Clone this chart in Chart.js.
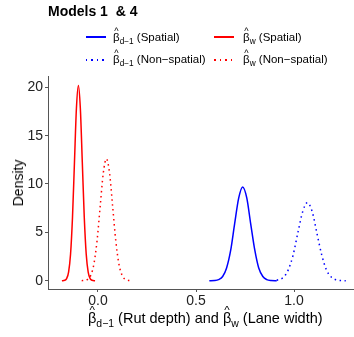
<!DOCTYPE html>
<html lang="en">

<head>
  <meta charset="UTF-8">
  <script src="https://cdn.jsdelivr.net/npm/chart.js"></script>
  <style>
    body { margin: 0; background: #fff; font-family: "Liberation Sans", Arial, sans-serif; }
    .wrap { position: relative; width: 354px; height: 337px; }
    .wrap > div { position: absolute; white-space: nowrap; color: #000; }
    .title { left: 48px; top: 3px; font-size: 14px; line-height: 16px; font-weight: bold; }
    .key { width: 20px; height: 1.5px; }
    .solid-blue { background: #0000ff; }
    .solid-red { background: #ff0000; }
    .dot-blue { background: repeating-linear-gradient(to right, #0000ff 0 1.5px, transparent 1.5px 5.5px); }
    .dot-red { background: repeating-linear-gradient(to right, #ff0000 0 1.5px, transparent 1.5px 5.5px); }
    .lab { font-size: 11.5px; line-height: 13px; color: #000; }
    .b { position: relative; display: inline-block; }
    .b .hat { position: absolute; left: 0; width: 100%; text-align: center; top: -0.66em; font-size: 0.8em; }
    .sub { position: relative; top: 0.35em; font-size: 0.72em; }
    .ytitle { left: 18px; top: 183px; font-size: 14px; transform: translate(-50%, -50%) rotate(-90deg); }
    .xtitle { left: 88px; top: 310px; font-size: 14.5px; line-height: 16px; }
  </style>
</head>

<body>
  <div class="wrap">
    <canvas id="densityChart" width="354" height="337"></canvas>
    <div class="title">Models 1&nbsp; &amp; 4</div>

    <div class="key solid-blue" style="left:86px; top:36px"></div>
    <div class="lab" style="left:113px; top:31px"><span class="b"><span class="hat">^</span>β</span><span class="sub">d−1</span> (Spatial)</div>
    <div class="key solid-red" style="left:214px; top:36px"></div>
    <div class="lab" style="left:243px; top:31px"><span class="b"><span class="hat">^</span>β</span><span class="sub">w</span> (Spatial)</div>
    <div class="key dot-blue" style="left:86px; top:59px"></div>
    <div class="lab" style="left:113px; top:53px"><span class="b"><span class="hat">^</span>β</span><span class="sub">d−1</span> (Non−spatial)</div>
    <div class="key dot-red" style="left:214px; top:59px"></div>
    <div class="lab" style="left:243px; top:53px"><span class="b"><span class="hat">^</span>β</span><span class="sub">w</span> (Non−spatial)</div>

    <div class="ytitle">Density</div>
    <div class="xtitle"><span class="b"><span class="hat">^</span>β</span><span class="sub">d−1</span> (Rut depth) and <span class="b"><span class="hat">^</span>β</span><span class="sub">w</span> (Lane width)</div>
  </div>

  <script>
    // rut depth coefficient, spatial model (blue solid)
    const rutSpatialX = [0.568, 0.595, 0.615, 0.636, 0.656, 0.677, 0.697, 0.718, 0.738, 0.759, 0.779, 0.800, 0.820, 0.841, 0.861, 0.882, 0.912];
    const rutSpatialY = [0.00, 0.02, 0.11, 0.43, 1.31, 3.15, 5.88, 8.56, 9.70, 8.56, 5.88, 3.15, 1.31, 0.43, 0.11, 0.02, 0.00];

    // rut depth coefficient, non-spatial model (blue dotted)
    const rutNonSpatialX = [0.912, 0.946, 0.970, 0.995, 1.019, 1.044, 1.068, 1.093, 1.117, 1.142, 1.166, 1.191, 1.215, 1.240, 1.264];
    const rutNonSpatialY = [0.05, 0.35, 1.09, 2.62, 4.89, 7.12, 8.07, 7.12, 4.89, 2.62, 1.09, 0.35, 0.09, 0.02, 0.00];

    // lane width coefficient, spatial model (red solid)
    const widthSpatialX = [-0.184, -0.17, -0.16, -0.15, -0.14, -0.13, -0.12, -0.11, -0.10, -0.09, -0.08, -0.07, -0.06, -0.05, -0.04, -0.03, -0.015];
    const widthSpatialY = [0.00, 0.04, 0.22, 0.89, 2.73, 6.56, 12.25, 17.83, 20.20, 17.83, 12.25, 6.56, 2.73, 0.89, 0.22, 0.04, 0.00];

    // lane width coefficient, non-spatial model (red dotted)
    const widthNonSpatialX = [-0.083, -0.069, -0.053, -0.037, -0.021, -0.005, 0.011, 0.027, 0.043, 0.059, 0.075, 0.091, 0.107, 0.123, 0.139, 0.155, 0.172];
    const widthNonSpatialY = [0.00, 0.03, 0.14, 0.55, 1.70, 4.09, 7.64, 11.12, 12.60, 11.12, 7.64, 4.09, 1.70, 0.55, 0.14, 0.03, 0.00];

    const xTicks = [0, 0.5, 1];
    const yTicks = [0, 5, 10, 15, 20];

    const toPoints = (xs, ys) => xs.map((x, i) => ({ x: x, y: ys[i] }));

    const lineStyle = (color, dashed) => ({
      borderColor: color,
      borderWidth: 1.5,
      borderDash: dashed ? [1.5, 3.5] : [],
      showLine: true,
      pointRadius: 0,
      cubicInterpolationMode: 'monotone',
      fill: false
    });

    const tickFont = { family: '"Liberation Sans", Arial, sans-serif', size: 14 };

    new Chart(document.getElementById('densityChart'), {
      type: 'scatter',
      data: {
        datasets: [
          { label: 'rut spatial', data: toPoints(rutSpatialX, rutSpatialY), ...lineStyle('#0000ff', false) },
          { label: 'rut non-spatial', data: toPoints(rutNonSpatialX, rutNonSpatialY), ...lineStyle('#0000ff', true) },
          { label: 'width spatial', data: toPoints(widthSpatialX, widthSpatialY), ...lineStyle('#ff0000', false) },
          { label: 'width non-spatial', data: toPoints(widthNonSpatialX, widthNonSpatialY), ...lineStyle('#ff0000', true) }
        ]
      },
      options: {
        responsive: false,
        animation: false,
        layout: { padding: { top: 76, right: 0, bottom: 0, left: 0 } },
        plugins: {
          legend: { display: false },
          tooltip: { enabled: false }
        },
        scales: {
          x: {
            type: 'linear',
            min: -0.255,
            max: 1.306,
            afterFit: (scale) => { scale.height = 48; },
            afterBuildTicks: (scale) => { scale.ticks = xTicks.map(v => ({ value: v })); },
            ticks: { callback: (v) => v.toFixed(1), font: tickFont, color: '#222', padding: 1, maxRotation: 0 },
            grid: { drawOnChartArea: false, tickLength: 3, color: '#555' },
            border: { color: '#555', width: 1 }
          },
          y: {
            min: -0.86,
            max: 21.17,
            afterFit: (scale) => { scale.width = 48; },
            afterBuildTicks: (scale) => { scale.ticks = yTicks.map(v => ({ value: v })); },
            ticks: { callback: (v) => String(v), font: tickFont, color: '#222', padding: 2 },
            grid: { drawOnChartArea: false, tickLength: 3, color: '#555' },
            border: { color: '#555', width: 1 }
          }
        }
      }
    });
  </script>
</body>

</html>
